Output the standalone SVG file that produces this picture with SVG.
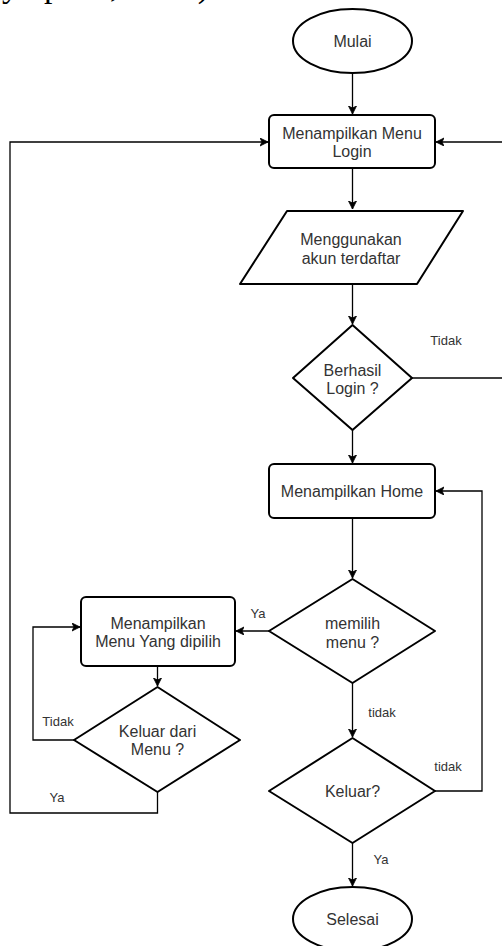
<svg xmlns="http://www.w3.org/2000/svg" width="502" height="946" viewBox="0 0 502 946">
<defs>
<style>
.sh{fill:#fff;stroke:#000;stroke-width:2;stroke-linejoin:round}
.t{font-family:"Liberation Sans",Arial,sans-serif;font-size:16px;fill:#333;text-anchor:middle}
.l{font-family:"Liberation Sans",Arial,sans-serif;font-size:13px;fill:#333;text-anchor:middle}
.c{fill:none;stroke:#000;stroke-width:1.3}
.doc{font-family:"Liberation Serif","Times New Roman",serif;font-size:34px;fill:#000}
</style>
<marker id="ar" markerUnits="userSpaceOnUse" markerWidth="10" markerHeight="10" refX="8" refY="4" orient="auto">
<path d="M0,0 L8,4 L0,8 L2,4 z" fill="#000" stroke="#000" stroke-width="0.8"/>
</marker>
</defs>
<rect width="502" height="946" fill="#fff"/>
<text class="doc" x="2" y="-3" textLength="216">ya pada, 2019).</text>

<g id="connectors">
<path class="c" d="M352.5,73 V114" marker-end="url(#ar)"/>
<path class="c" d="M352.5,168 V209" marker-end="url(#ar)"/>
<path class="c" d="M352.5,284 V324" marker-end="url(#ar)"/>
<path class="c" d="M352.5,430 V463" marker-end="url(#ar)"/>
<path class="c" d="M352.5,518 V578" marker-end="url(#ar)"/>
<path class="c" d="M269,631 H236" marker-end="url(#ar)"/>
<path class="c" d="M157.5,666 V686" marker-end="url(#ar)"/>
<path class="c" d="M74,740 H33 V627 H80" marker-end="url(#ar)"/>
<path class="c" d="M157.5,792 V813 H10 V142 H268" marker-end="url(#ar)"/>
<path class="c" d="M412,378 H506"/>
<path class="c" d="M506,142 H436" marker-end="url(#ar)"/>
<path class="c" d="M352.5,683 V737" marker-end="url(#ar)"/>
<path class="c" d="M435,791 H482 V491 H436" marker-end="url(#ar)"/>
<path class="c" d="M352.5,843 V886" marker-end="url(#ar)"/>
<text class="l" x="446" y="344.5">Tidak</text>
<text class="l" x="258" y="617.5">Ya</text>
<text class="l" x="58" y="725.5">Tidak</text>
<text class="l" x="57" y="801.5">Ya</text>
<text class="l" x="382" y="716.5">tidak</text>
<text class="l" x="448" y="770.5">tidak</text>
<text class="l" x="381" y="863.5">Ya</text>
</g>

<g id="mulai">
<ellipse class="sh" cx="352.5" cy="41" rx="59.5" ry="32"/>
<text class="t" x="352.5" y="47">Mulai</text>
</g>
<g id="menu-login">
<rect class="sh" x="269" y="115" width="166" height="53" rx="5"/>
<text class="t" x="352" y="139">Menampilkan Menu</text>
<text class="t" x="352" y="157">Login</text>
</g>
<g id="akun">
<polygon class="sh" points="287,211 463,211 417,284 240,284"/>
<text class="t" x="351" y="245">Menggunakan</text>
<text class="t" x="351" y="264">akun terdaftar</text>
</g>
<g id="berhasil">
<polygon class="sh" points="352.5,325 412,378 352.5,430 293,378"/>
<text class="t" x="352.5" y="376">Berhasil</text>
<text class="t" x="352.5" y="394">Login ?</text>
</g>
<g id="home">
<rect class="sh" x="269" y="464" width="166" height="54" rx="5"/>
<text class="t" x="352" y="497">Menampilkan Home</text>
</g>
<g id="memilih">
<polygon class="sh" points="352.5,579 435,631 352.5,683 269,631"/>
<text class="t" x="352.5" y="629">memilih</text>
<text class="t" x="352.5" y="648">menu ?</text>
</g>
<g id="menu-dipilih">
<rect class="sh" x="81" y="597" width="154" height="69" rx="5"/>
<text class="t" x="158" y="629">Menampilkan</text>
<text class="t" x="158" y="647">Menu Yang dipilih</text>
</g>
<g id="keluar-menu">
<polygon class="sh" points="157.5,687 240,740 157.5,792 74,740"/>
<text class="t" x="157.5" y="737">Keluar dari</text>
<text class="t" x="157.5" y="755">Menu ?</text>
</g>
<g id="keluar">
<polygon class="sh" points="352.5,738 435,791 352.5,843 269,791"/>
<text class="t" x="352.5" y="797">Keluar?</text>
</g>
<g id="selesai">
<ellipse class="sh" cx="352.5" cy="919" rx="59.5" ry="32"/>
<text class="t" x="352.5" y="925">Selesai</text>
</g>
</svg>
